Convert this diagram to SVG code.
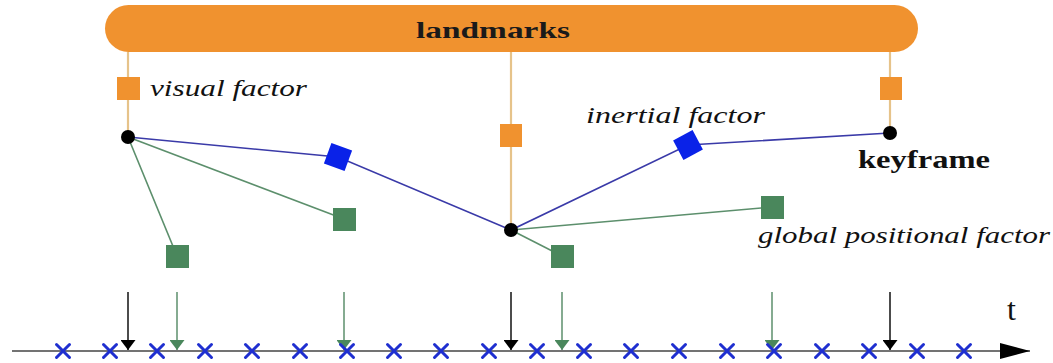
<svg xmlns="http://www.w3.org/2000/svg" width="1053" height="363" viewBox="0 0 1053 363">
  <style>
    .lm { stroke: #e6c38a; stroke-width: 2.2; fill: none; }
    .bl { stroke: #3a3aa8; stroke-width: 1.6; fill: none; }
    .gl { stroke: #5c8f6c; stroke-width: 1.6; fill: none; }
    .orange { fill: #f0922f; }
    .green { fill: #4a875c; }
    .blue { fill: #0a22e8; }
    .kf { fill: #000; }
    .it { font-family: "Liberation Serif", serif; font-style: italic; font-size: 23px; fill: #111; }
    .rm { font-family: "Liberation Serif", serif; font-size: 26px; fill: #111; }
    .cross { stroke: #1f2fd0; stroke-width: 3; stroke-linecap: round; }
    .tk { stroke: #111; stroke-width: 1.5; }
    .tg { stroke: #5c8f6c; stroke-width: 1.5; }
  </style>
  <defs>
    <marker id="ahK" viewBox="0 0 10 15" refX="10" refY="7.5" markerWidth="11" markerHeight="15" markerUnits="userSpaceOnUse" orient="auto">
      <path d="M0,0 L10,7.5 L0,15 Z" fill="#000"/>
    </marker>
    <marker id="ahG" viewBox="0 0 10 15" refX="10" refY="7.5" markerWidth="11" markerHeight="15" markerUnits="userSpaceOnUse" orient="auto">
      <path d="M0,0 L10,7.5 L0,15 Z" fill="#4a875c"/>
    </marker>
    <marker id="ahAxis" viewBox="0 0 30 16" refX="30" refY="8" markerWidth="30" markerHeight="16" markerUnits="userSpaceOnUse" orient="auto">
      <path d="M0,0 L30,8 L0,16 Z" fill="#000"/>
    </marker>
    <g id="x"><line class="cross" x1="-6.5" y1="-6.5" x2="6.5" y2="6.5"/><line class="cross" x1="-6.5" y1="6.5" x2="6.5" y2="-6.5"/></g>
  </defs>

  <!-- landmark bar -->
  <g id="landmarks">
    <rect x="105" y="5" width="813" height="47" rx="23.5" ry="23.5" class="orange"/>
    <text x="416" y="38" textLength="154" lengthAdjust="spacingAndGlyphs" font-family="Liberation Serif, serif" font-weight="bold" font-size="24" fill="#1a1a1a">landmarks</text>
  </g>

  <!-- connectors -->
  <g id="connectors">
    <line class="lm" x1="128" y1="52" x2="128" y2="137"/>
    <line class="lm" x1="511" y1="52" x2="511" y2="230"/>
    <line class="lm" x1="890" y1="52" x2="890" y2="133"/>
    <polyline class="bl" points="128,137 338,157 511,230 688,145 890,133"/>
    <line class="gl" x1="128" y1="137" x2="177" y2="256"/>
    <line class="gl" x1="128" y1="137" x2="344" y2="219"/>
    <line class="gl" x1="511" y1="230" x2="562" y2="256"/>
    <line class="gl" x1="511" y1="230" x2="772" y2="207"/>
    <!-- time markers -->
    <line class="tk" x1="128" y1="292" x2="128" y2="350" marker-end="url(#ahK)"/>
    <line class="tg" x1="177" y1="292" x2="177" y2="350" marker-end="url(#ahG)"/>
    <line class="tg" x1="344" y1="292" x2="344" y2="350" marker-end="url(#ahG)"/>
    <line class="tk" x1="511" y1="292" x2="511" y2="350" marker-end="url(#ahK)"/>
    <line class="tg" x1="562" y1="292" x2="562" y2="350" marker-end="url(#ahG)"/>
    <line class="tg" x1="772" y1="292" x2="772" y2="350" marker-end="url(#ahG)"/>
    <line class="tk" x1="890" y1="292" x2="890" y2="350" marker-end="url(#ahK)"/>
  </g>

  <!-- visual factors -->
  <g id="visual-factor-1"><rect class="orange" x="117" y="77" width="23" height="23"/></g>
  <g id="visual-factor-2"><rect class="orange" x="500" y="124" width="22" height="23"/></g>
  <g id="visual-factor-3"><rect class="orange" x="880" y="77" width="22" height="23"/></g>

  <!-- inertial factors -->
  <g id="inertial-factor-1"><rect class="blue" x="-11" y="-11" width="22" height="22" transform="translate(338,157) rotate(20)"/></g>
  <g id="inertial-factor-2"><rect class="blue" x="-11" y="-11" width="22" height="22" transform="translate(688,145) rotate(-28)"/></g>

  <!-- global positional factors -->
  <g id="gp-factor-1"><rect class="green" x="166" y="245" width="23" height="23"/></g>
  <g id="gp-factor-2"><rect class="green" x="333" y="208" width="23" height="23"/></g>
  <g id="gp-factor-3"><rect class="green" x="551" y="245" width="23" height="23"/></g>
  <g id="gp-factor-4"><rect class="green" x="761" y="196" width="23" height="23"/></g>

  <!-- keyframes -->
  <g id="keyframe-1"><circle class="kf" cx="128" cy="137" r="7"/></g>
  <g id="keyframe-2"><circle class="kf" cx="511" cy="230" r="7"/></g>
  <g id="keyframe-3"><circle class="kf" cx="890" cy="133" r="7"/></g>

  <!-- labels -->
  <g id="labels">
    <text class="it" x="150" y="96" textLength="157" lengthAdjust="spacingAndGlyphs">visual factor</text>
    <text class="it" x="586" y="123" textLength="179" lengthAdjust="spacingAndGlyphs">inertial factor</text>
    <text class="rm" x="858" y="168" font-weight="bold" textLength="132" lengthAdjust="spacingAndGlyphs">keyframe</text>
    <text class="it" x="758" y="243" textLength="292" lengthAdjust="spacingAndGlyphs">global positional factor</text>
    <text x="1007" y="320" font-family="Liberation Serif, serif" font-size="32" fill="#111">t</text>
  </g>

  <!-- time axis -->
  <g id="time-axis">
    <line x1="12" y1="351" x2="1030" y2="351" stroke="#444" stroke-width="1.6" marker-end="url(#ahAxis)"/>
    <use href="#x" x="63" y="351"/>
    <use href="#x" x="110" y="351"/>
    <use href="#x" x="157" y="351"/>
    <use href="#x" x="205" y="351"/>
    <use href="#x" x="252" y="351"/>
    <use href="#x" x="300" y="351"/>
    <use href="#x" x="347" y="351"/>
    <use href="#x" x="394" y="351"/>
    <use href="#x" x="441" y="351"/>
    <use href="#x" x="489" y="351"/>
    <use href="#x" x="537" y="351"/>
    <use href="#x" x="584" y="351"/>
    <use href="#x" x="631" y="351"/>
    <use href="#x" x="679" y="351"/>
    <use href="#x" x="727" y="351"/>
    <use href="#x" x="774" y="351"/>
    <use href="#x" x="822" y="351"/>
    <use href="#x" x="869" y="351"/>
    <use href="#x" x="917" y="351"/>
    <use href="#x" x="964" y="351"/>
  </g>
</svg>
